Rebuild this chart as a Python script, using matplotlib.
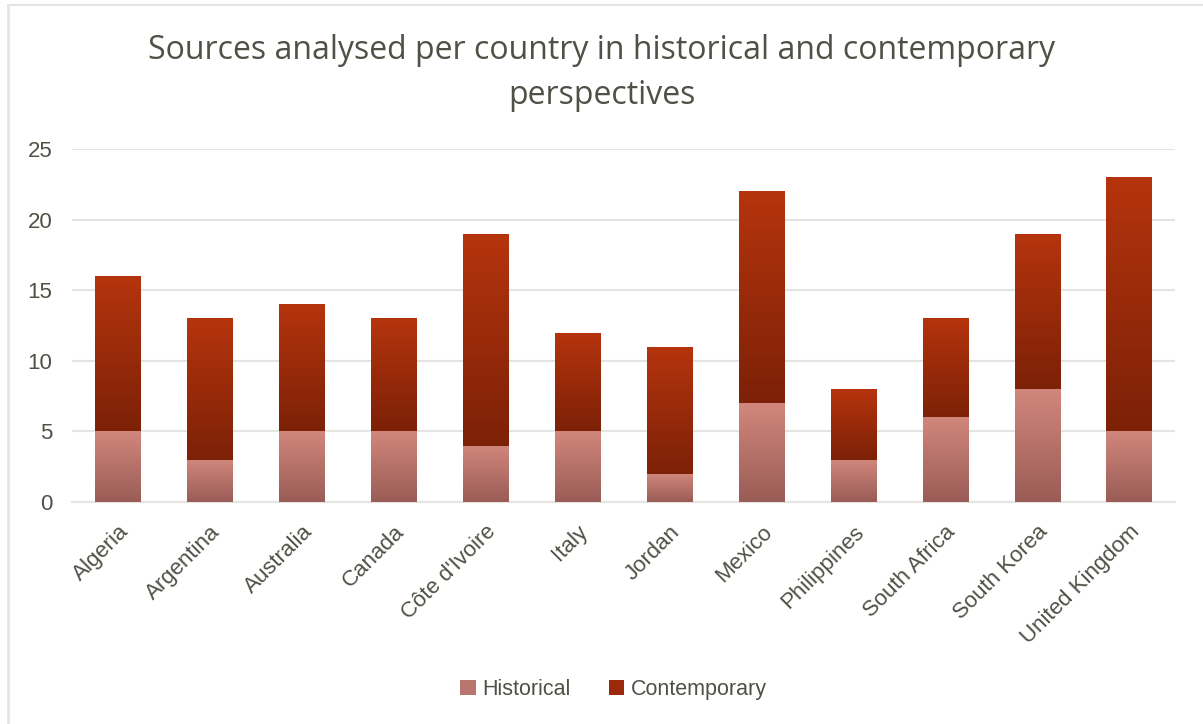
import matplotlib
matplotlib.use("Agg")
import matplotlib.pyplot as plt
from matplotlib.colors import LinearSegmentedColormap
from matplotlib.lines import Line2D
from matplotlib.patches import Patch
import numpy as np

countries = ["Algeria", "Argentina", "Australia", "Canada", "Côte d'Ivoire", "Italy",
             "Jordan", "Mexico", "Philippines", "South Africa", "South Korea",
             "United Kingdom"]
historical = [5, 3, 5, 5, 4, 5, 2, 7, 3, 6, 8, 5]
contemporary = [11, 10, 9, 8, 15, 7, 9, 15, 5, 7, 11, 18]

txt = "#505046"
grid = "#e4e4e0"

# top colour -> bottom colour for each segment
hist_cmap = LinearSegmentedColormap.from_list("hist", ["#9a5c56", "#d1877c"])
cont_cmap = LinearSegmentedColormap.from_list("cont", ["#7c2107", "#b5340d"])

fig = plt.figure(figsize=(12.03, 7.24), dpi=100)
ax = fig.add_axes([0.0599, 0.3066, 0.9168, 0.4876])

x = np.arange(len(countries))
w = 0.49
b1 = ax.bar(x, historical, w, color="none", zorder=3)
b2 = ax.bar(x, contemporary, w, bottom=historical, color="none", zorder=3)

grad = np.linspace(0, 1, 256).reshape(-1, 1)
for bars, cmap in [(b1, hist_cmap), (b2, cont_cmap)]:
    for p in bars:
        x0, y0 = p.get_x(), p.get_y()
        x1, y1 = x0 + p.get_width(), y0 + p.get_height()
        im = ax.imshow(grad, cmap=cmap, aspect="auto", origin="lower",
                       extent=[x0, x1, y0, y1], zorder=3, interpolation="bilinear")
        im.set_clip_path(p)

ax.set_xlim(-0.5, len(countries) - 0.5)
ax.set_ylim(0, 25)
ax.set_yticks([0, 5, 10, 15, 20, 25])
ax.yaxis.grid(True, color=grid, lw=1.5, zorder=0)
ax.set_axisbelow(True)
for s in ["top", "right", "left"]:
    ax.spines[s].set_visible(False)
ax.spines["bottom"].set_color(grid)
ax.spines["bottom"].set_linewidth(1.5)
ax.tick_params(axis="both", length=0, labelsize=16, colors=txt, labelfontfamily="Liberation Sans")
ax.tick_params(axis="y", pad=14)
ax.set_xticks(x)
ax.set_xticklabels(countries, rotation=45, ha="right", rotation_mode="anchor")
ax.tick_params(axis="x", pad=14)

fig.text(0.5, 0.899, "Sources analysed per country in historical and contemporary\nperspectives",
         ha="center", va="center", fontsize=23, color=txt, family="Open Sans",
         linespacing=1.45)

handles = [Patch(facecolor="#b9766e", label="Historical"),
           Patch(facecolor="#9c2a0a", label="Contemporary")]
fig.legend(handles=handles, loc="center", bbox_to_anchor=(0.51, 0.048), ncol=2,
           frameon=False, handlelength=0.7, handleheight=0.7,
           handletextpad=0.3, columnspacing=1.8,
           prop={"family": "Liberation Sans", "size": 15.5}, labelcolor=txt)

# light frame on the left and top edges
fig.add_artist(Line2D([0.0066, 0.0066], [0.0, 0.993], color="#e4e4e0", lw=2))
fig.add_artist(Line2D([0.0066, 1.0], [0.993, 0.993], color="#e4e4e0", lw=1.5))

fig.savefig("out.png", dpi=100)
